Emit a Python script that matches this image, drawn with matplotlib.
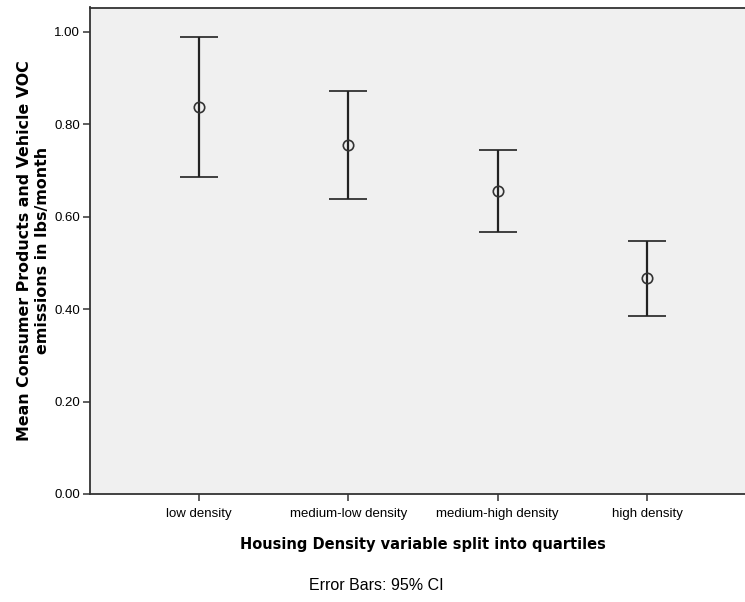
import matplotlib
matplotlib.use("Agg")
import matplotlib.pyplot as plt

# values (means and 95% CI bounds)
categories = ["low density", "medium-low density", "medium-high density", "high density"]
means = [0.838, 0.755, 0.656, 0.467]
ci_upper = [0.990, 0.872, 0.745, 0.548]
ci_lower = [0.687, 0.639, 0.567, 0.386]
y_ticks = [0.0, 0.2, 0.4, 0.6, 0.8, 1.0]

fig = plt.figure(figsize=(7.45, 6.02), dpi=100)
# axes runs slightly past the right edge, like the cropped original
ax = fig.add_axes([90/745, 108/602, 666/745, 486.5/602])
ax.set_facecolor("#F0F0F0")

xs = list(range(1, len(categories) + 1))
err_low = [m - l for m, l in zip(means, ci_lower)]
err_up = [u - m for m, u in zip(means, ci_upper)]
ax.errorbar(xs, means, yerr=[err_low, err_up], fmt="o", mfc="none",
            mec="#333333", ms=7.5, mew=1.2, ecolor="#222222", elinewidth=1.6,
            capsize=14, capthick=1.9)

ax.set_xlim(0.27, 4.73)
ax.set_ylim(0, 1.053)
ax.set_yticks(y_ticks)
ax.set_yticklabels([f"{v:.2f}" for v in y_ticks])
ax.set_xticks(xs)
ax.set_xticklabels(categories)

for s in ["top", "bottom", "left", "right"]:
    ax.spines[s].set_color("#333333")
    ax.spines[s].set_linewidth(1.3)
ax.tick_params(axis="both", colors="#333333", labelcolor="black",
               labelsize=9.5, length=5, width=1.1)
ax.tick_params(axis="y", pad=2)
ax.tick_params(axis="x", pad=5)
for lab in ax.get_xticklabels() + ax.get_yticklabels():
    lab.set_fontfamily("Liberation Sans")

ax.set_xlabel("Housing Density variable split into quartiles",
              fontsize=10.5, fontweight="bold", labelpad=12)
ax.set_ylabel("Mean Consumer Products and Vehicle VOC\nemissions in lbs/month",
              fontsize=11.4, fontweight="bold", labelpad=3, linespacing=1.3)

fig.text(376/745, 1 - 586/602, "Error Bars: 95% CI", ha="center", va="center",
         fontsize=11.5, family="Liberation Sans")

fig.savefig("out.png", dpi=100)
